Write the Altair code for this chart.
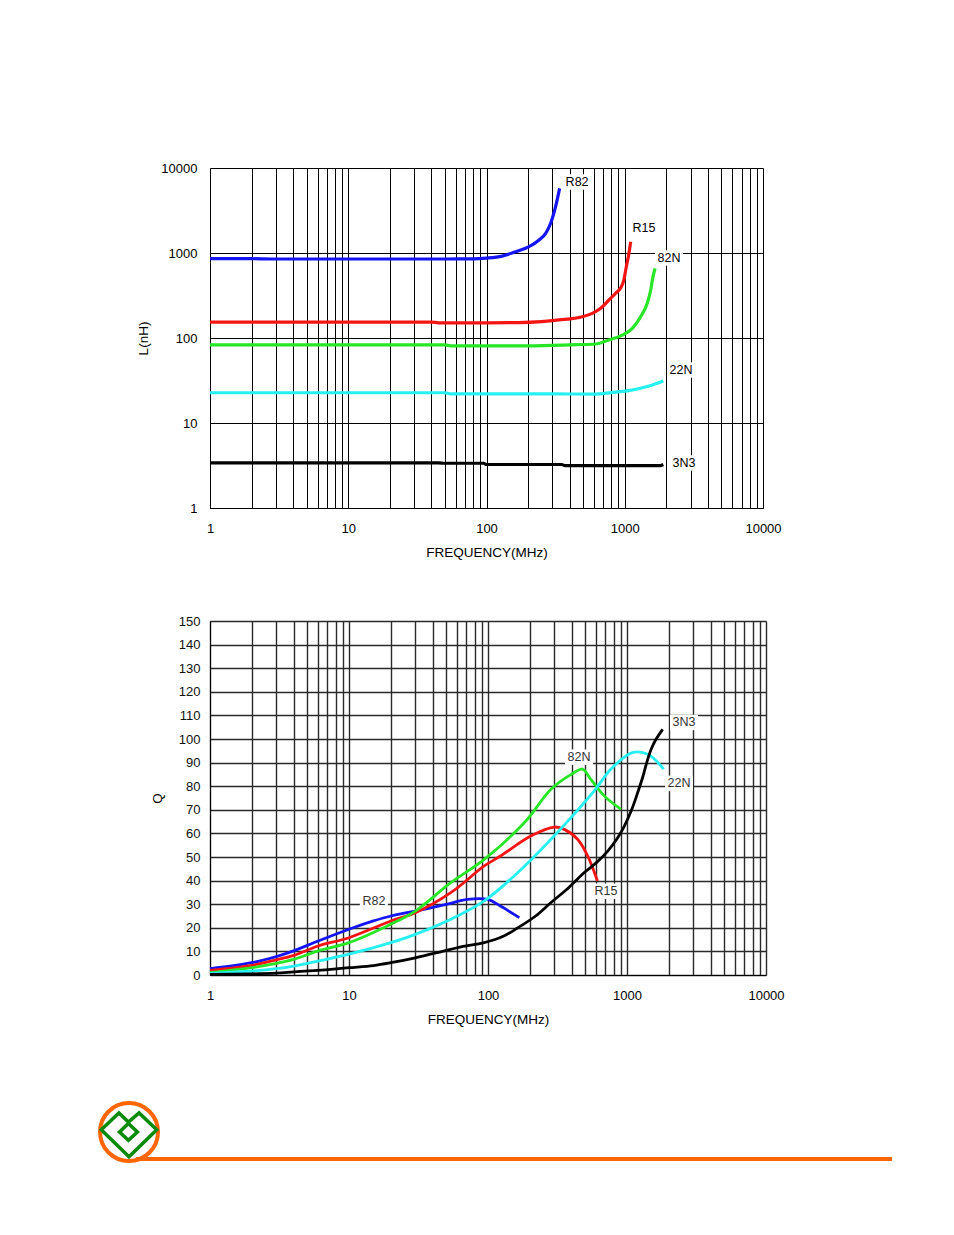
import altair as alt
import pandas as pd

FONT = "Liberation Sans"

# ---------------- Top chart: inductance vs frequency ----------------
r82_l_freq = [1, 2, 2.8, 5, 10, 20, 50, 80, 100, 130, 163, 203, 240, 268, 291, 316, 338]
r82_l_val = [857, 857, 850, 850, 850, 850, 850, 852, 870, 920, 1036, 1186, 1422, 1706, 2235, 3510, 5760]

r15_l_freq = [1, 10, 40, 45, 100, 170, 250, 334, 493, 582, 670, 769, 860, 935, 988, 1026, 1062, 1104]
r15_l_val = [154, 154, 154, 151, 151, 152, 156, 163, 178, 195, 224, 280, 336, 390, 490, 690, 906, 1360]

n82_l_freq = [1, 10, 50, 55, 200, 400, 617, 769, 960, 1135, 1303, 1455, 1541, 1601, 1656]
n82_l_val = [83, 83, 83, 81, 81, 83, 85, 95, 108, 130, 178, 256, 367, 525, 660]

n22_l_freq = [1, 50, 55, 300, 600, 800, 1072, 1497, 1900]
n22_l_val = [22.7, 22.7, 22.0, 22.0, 21.9, 22.8, 24.0, 27.2, 31.2]

n3_l_freq = [1, 45, 50, 95, 100, 350, 370, 1800, 1900]
n3_l_val = [3.4, 3.4, 3.36, 3.36, 3.25, 3.25, 3.15, 3.15, 3.25]

l_label_text = ["R82", "R15", "82N", "22N", "3N3"]
l_label_freq = [452, 1377, 2090, 2552, 2685]
l_label_val = [6840, 1968, 873, 42, 3.38]

# ---------------- Bottom chart: Q vs frequency ----------------
n3_q_freq = [1, 2, 3, 4, 6, 7.4, 10, 15, 20, 30, 47, 64, 94, 130, 164, 220, 284, 380, 493, 600,
             727, 850, 957, 1080, 1194, 1300, 1409, 1500, 1617, 1806]
n3_q_val = [0.3, 0.5, 0.8, 1.3, 2.0, 2.4, 3.1, 4.0, 5.2, 7.3, 10.0, 11.9, 13.7, 16.5, 20.0, 25.0,
            30.7, 37.0, 43.4, 47.5, 52.5, 57.8, 63.1, 70.0, 77.3, 84.0, 91.4, 96.0, 99.9, 104.1]

r82_q_freq = [1, 2, 3, 4, 6, 10, 15, 20, 30, 50, 71, 99.5, 123, 168]
r82_q_val = [2.7, 5.2, 7.8, 10.2, 14.4, 19.4, 22.9, 25.0, 27.1, 29.9, 32.0, 32.0, 29.2, 24.3]

r15_q_freq = [1, 2, 3, 4, 6, 10, 20, 30, 54, 94, 123, 203, 300, 354, 441, 522, 613]
r15_q_val = [2.0, 4.1, 6.4, 8.3, 12.3, 15.8, 22.9, 26.4, 34.9, 46.2, 50.4, 58.9, 62.7, 61.7, 57.5, 50.4, 39.8]

n82_q_freq = [1, 2, 3, 4, 6, 10, 20, 30, 54, 94, 183, 284, 397, 478, 550, 685, 906]
n82_q_val = [1.0, 3.1, 4.9, 6.6, 10.2, 13.7, 21.5, 27.1, 39.1, 49.0, 64.6, 78.7, 85.0, 87.2, 82.9, 75.9, 70.2]

n22_q_freq = [1, 2, 3, 4, 6, 10, 20, 30, 54, 94, 164, 284, 581, 765, 1090, 1409, 1839]
n22_q_val = [0.7, 1.7, 2.7, 3.8, 5.9, 8.8, 13.7, 17.2, 23.6, 31.4, 43.4, 57.5, 78.0, 87.2, 94.2, 93.5, 87.2]

q_label_text = ["3N3", "82N", "22N", "R15", "R82"]
q_label_freq = [2570, 452, 2366, 706, 15.1]
q_label_val = [107, 92.3, 81.2, 35.5, 31.2]

series_names = ["R82", "R15", "82N", "22N", "3N3"]
series_colors = ["#1414F5", "#F51414", "#26E626", "#26F0F0", "#000000"]

freq_ticks = [m * 10 ** e for e in range(4) for m in range(1, 10)] + [10000]
decades = [1, 10, 100, 1000, 10000]
q_ticks = list(range(0, 151, 10))


def build(pairs):
    rows = []
    for name, fr, vals in pairs:
        for i, (f, v) in enumerate(zip(fr, vals)):
            rows.append({"series": name, "freq": f, "val": v, "order": i})
    return pd.DataFrame(rows)


df_l = build([("R82", r82_l_freq, r82_l_val), ("R15", r15_l_freq, r15_l_val),
              ("82N", n82_l_freq, n82_l_val), ("22N", n22_l_freq, n22_l_val),
              ("3N3", n3_l_freq, n3_l_val)])
df_q = build([("R82", r82_q_freq, r82_q_val), ("R15", r15_q_freq, r15_q_val),
              ("82N", n82_q_freq, n82_q_val), ("22N", n22_q_freq, n22_q_val),
              ("3N3", n3_q_freq, n3_q_val)])
df_ll = pd.DataFrame({"text": l_label_text, "freq": l_label_freq, "val": l_label_val})
df_ql = pd.DataFrame({"text": q_label_text, "freq": q_label_freq, "val": q_label_val})

color_scale = alt.Scale(domain=series_names, range=series_colors)
freq_scale = alt.Scale(type="log", domain=[1, 10000], nice=False)
l_scale = alt.Scale(type="log", domain=[1, 10000], nice=False)
q_scale = alt.Scale(domain=[0, 150], nice=False)

label_expr = "indexof([1,10,100,1000,10000], datum.value) >= 0 ? format(datum.value, 'd') : ''"


def x_axis(grid_color, grid_width):
    return alt.Axis(values=freq_ticks, labelExpr=label_expr, grid=True, gridColor=grid_color,
                    gridWidth=grid_width, gridOpacity=1, ticks=False, domainColor="#000",
                    labelFont=FONT, labelFontSize=13, labelColor="#000", labelPadding=14,
                    labelFlush=False, labelOverlap=False, title="FREQUENCY(MHz)",
                    titleFont=FONT, titleFontSize=13.5, titleFontWeight="normal",
                    titleColor="#000", titlePadding=10)


box_shape = "M-1,-0.55L1,-0.55L1,0.55L-1,0.55Z"

# ---- top chart ----
top_x = alt.X("freq:Q", scale=freq_scale, axis=x_axis("#000", 1))
top_y_axis = alt.Axis(values=decades, format="d", grid=True, gridColor="#000", gridWidth=1,
                      gridOpacity=1, ticks=False, domainColor="#000", labelFont=FONT,
                      labelFontSize=13, labelColor="#000", labelPadding=13, labelFlush=False,
                      labelOverlap=False, title="L(nH)", titleFont=FONT, titleFontSize=13.5,
                      titleFontWeight="normal", titleColor="#000", titlePadding=10)
top_y = alt.Y("val:Q", scale=l_scale, axis=top_y_axis)

top_lines = alt.Chart(df_l).mark_line(strokeWidth=3.2, interpolate="monotone").encode(
    x=top_x, y=top_y, color=alt.Color("series:N", scale=color_scale, legend=None),
    detail="series:N", order="order:Q")
top_box = alt.Chart(df_ll).mark_point(shape=box_shape, size=784, filled=True, fill="white",
                                      opacity=1, strokeWidth=0).encode(x=top_x, y=top_y)
top_text = alt.Chart(df_ll).mark_text(font=FONT, fontSize=12.5, color="#000").encode(
    x=top_x, y=top_y, text="text:N")

top = alt.layer(top_lines, top_box, top_text).properties(width=553, height=340)

# ---- bottom chart ----
bot_x = alt.X("freq:Q", scale=freq_scale, axis=x_axis("#2a2a2a", 1.4))
bot_y_axis = alt.Axis(values=q_ticks, grid=True, gridColor="#2a2a2a",
                      gridWidth=1.4, gridOpacity=1, ticks=False, domainColor="#000",
                      labelFont=FONT, labelFontSize=13, labelColor="#111", labelPadding=10,
                      labelFlush=False, labelOverlap=False, title="Q", titleFont=FONT,
                      titleFontSize=13.5, titleFontWeight="normal", titleColor="#000",
                      titlePadding=14)
bot_y = alt.Y("val:Q", scale=q_scale, axis=bot_y_axis)

bot_lines = alt.Chart(df_q).mark_line(strokeWidth=2.8, interpolate="catmull-rom").encode(
    x=bot_x, y=bot_y, color=alt.Color("series:N", scale=color_scale, legend=None),
    detail="series:N", order="order:Q")
bot_box = alt.Chart(df_ql).mark_point(shape=box_shape, size=784, filled=True, fill="white",
                                      opacity=1, strokeWidth=0).encode(x=bot_x, y=bot_y)
bot_text = alt.Chart(df_ql).mark_text(font=FONT, fontSize=12.5, color="#333").encode(
    x=bot_x, y=bot_y, text="text:N")

# ---- footer (logo + rule), positioned in pixels relative to the bottom plot ----
one = pd.DataFrame({"k": [0]})
foot_rule = alt.Chart(one).mark_rule(color="#FF6600", strokeWidth=4).encode(
    x=alt.value(-74), x2=alt.value(682), y=alt.value(538))
foot_circle = alt.Chart(one).mark_point(shape="circle", filled=False, color="#FF6600",
                                        strokeWidth=4, size=3364, opacity=1).encode(
    x=alt.value(-81), y=alt.value(511))
logo_path = ("M-0.99,-0.19L-0.36,-0.79L-0.02,-0.46L0.36,-0.79L0.99,-0.19L0,0.78Z"
             "M-0.02,-0.41L0.3,-0.11L-0.02,0.19L-0.34,-0.11Z")
foot_logo = alt.Chart(one).mark_point(shape=logo_path, filled=False, color="#0A8A0A",
                                      strokeWidth=3.5, size=3136, opacity=1).encode(
    x=alt.value(-81), y=alt.value(514))

bottom = alt.layer(bot_lines, bot_box, bot_text, foot_rule, foot_circle, foot_logo).properties(
    width=556, height=354)

chart = alt.vconcat(top, bottom, spacing=113, bounds="flush").properties(
    padding={"left": 83, "top": 153, "right": 10, "bottom": 10}
).configure_view(stroke="#000", strokeWidth=1).configure(background="white")

chart.save("out.html", embed_options={"renderer": "svg", "actions": False})
